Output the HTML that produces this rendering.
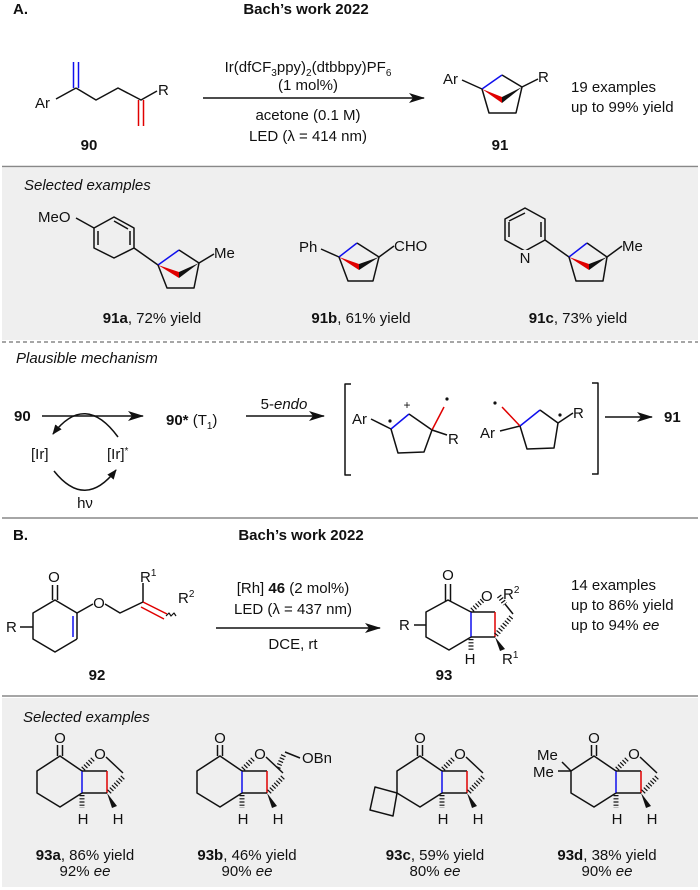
<!DOCTYPE html>
<html><head><meta charset="utf-8">
<style>
html,body{margin:0;padding:0;background:#fff;}
svg{display:block;font-family:"Liberation Sans",Arial,sans-serif;}
text{font-size:15px;fill:#111;}
.b{font-weight:bold;}
.k{stroke:#111;stroke-width:1.5;fill:none;stroke-linejoin:round;}
.bl{stroke:#1010ee;stroke-width:1.5;fill:none;}
.rd{stroke:#e00000;stroke-width:1.5;fill:none;}
.h{stroke:#111;stroke-width:5;stroke-dasharray:1.2 2;fill:none;}
</style></head><body>
<svg width="700" height="890" viewBox="0 0 700 890" xmlns="http://www.w3.org/2000/svg">
<defs>
<marker id="ah" viewBox="0 0 10 10" refX="9" refY="5" markerWidth="10" markerHeight="10" markerUnits="userSpaceOnUse" orient="auto"><path d="M0,1 L10,5 L0,9 Z" fill="#111"/></marker>
<marker id="ah2" viewBox="0 0 16 10" refX="15" refY="5" markerWidth="16" markerHeight="10" markerUnits="userSpaceOnUse" orient="auto"><path d="M0,0 L16,5 L0,10 L4,5 Z" fill="#111"/></marker>
</defs>

<rect x="2" y="168" width="696" height="172" fill="#efefef"/>
<rect x="2" y="698" width="696" height="189" fill="#efefef"/>
<line x1="2" y1="166.5" x2="698" y2="166.5" stroke="#888" stroke-width="1.5"/>
<line x1="2" y1="342" x2="698" y2="342" stroke="#888" stroke-width="1.5" stroke-dasharray="4 3"/>
<line x1="2" y1="518" x2="698" y2="518" stroke="#888" stroke-width="1.5"/>
<line x1="2" y1="696" x2="698" y2="696" stroke="#888" stroke-width="1.5"/>

<text x="13" y="14" class="b" style="font-size:15px">A.</text>
<text x="306" y="14" class="b" text-anchor="middle" style="font-size:15px">Bach’s work 2022</text>

<text x="35" y="108">Ar</text>
<line class="k" x1="56" y1="99" x2="76" y2="88"/>
<line class="bl" x1="73.5" y1="88" x2="73.5" y2="62"/><line class="bl" x1="78.5" y1="88" x2="78.5" y2="62"/>
<polyline class="k" points="76,88 96,100 118,88 141,100 157,91"/>
<text x="158" y="95">R</text>
<line class="rd" x1="138.5" y1="100" x2="138.5" y2="126"/><line class="rd" x1="143.5" y1="100" x2="143.5" y2="126"/>
<text x="89" y="150" class="b" text-anchor="middle">90</text>

<line x1="203" y1="98" x2="424" y2="98" stroke="#111" stroke-width="1.6" marker-end="url(#ah2)"/>
<text x="308" y="72" text-anchor="middle">Ir(dfCF<tspan dy="4" style="font-size:10px">3</tspan><tspan dy="-4">ppy)</tspan><tspan dy="4" style="font-size:10px">2</tspan><tspan dy="-4">(dtbbpy)PF</tspan><tspan dy="4" style="font-size:10px">6</tspan></text>
<text x="308" y="90" text-anchor="middle">(1 mol%)</text>
<text x="308" y="120" text-anchor="middle">acetone (0.1 M)</text>
<text x="308" y="141" text-anchor="middle">LED (λ = 414 nm)</text>

<text x="443" y="84">Ar</text>
<line class="k" x1="462" y1="80" x2="482" y2="89"/>
<line class="bl" x1="482" y1="89" x2="502" y2="75"/>
<polyline class="k" points="502,75 522,87 516,113 489,113 482,89"/>
<polygon points="482,89 502,97 502,103" fill="#e00000"/>
<polygon points="522,87 502,97 502,103" fill="#111"/>
<line class="k" x1="522" y1="87" x2="538" y2="79"/>
<text x="538" y="82">R</text>
<text x="500" y="150" class="b" text-anchor="middle">91</text>
<text x="571" y="92">19 examples</text>
<text x="571" y="112">up to 99% yield</text>

<text x="24" y="190" style="font-style:italic">Selected examples</text>
<text x="38" y="222">MeO</text>
<line class="k" x1="76" y1="218" x2="94" y2="228"/>
<polygon class="k" points="94,228 114,217 134,228 134,248 114,258 94,248"/>
<line class="k" x1="98" y1="231" x2="98" y2="245"/><line class="k" x1="130" y1="231" x2="130" y2="245"/><line class="k" x1="114" y1="221" x2="128" y2="229"/>
<line class="k" x1="134" y1="248" x2="158" y2="265"/>
<line class="bl" x1="158" y1="265" x2="179" y2="250"/>
<polyline class="k" points="179,250 199,263 194,288 167,288 158,265"/>
<polygon points="158,265 179,272 179,278" fill="#e00000"/>
<polygon points="199,263 179,272 179,278" fill="#111"/>
<line class="k" x1="199" y1="263" x2="214" y2="254"/>
<text x="214" y="258">Me</text>
<text x="299" y="252">Ph</text>
<line class="k" x1="321" y1="249" x2="339" y2="257"/>
<line class="bl" x1="339" y1="257" x2="357" y2="243"/>
<polyline class="k" points="357,243 379,257 373,281 348,281 339,257"/>
<polygon points="339,257 359,264 359,270" fill="#e00000"/>
<polygon points="379,257 359,264 359,270" fill="#111"/>
<line class="k" x1="379" y1="257" x2="394" y2="246"/>
<text x="394" y="251">CHO</text>
<polygon class="k" points="525,208 545,219 545,240 525,251 505,240 505,219"/>
<line class="k" x1="541" y1="222" x2="541" y2="237"/><line class="k" x1="509" y1="222" x2="509" y2="237"/><line class="k" x1="525" y1="213" x2="509" y2="221"/>
<rect x="519" y="250" width="12" height="14" fill="#efefef"/>
<text x="525" y="263" text-anchor="middle">N</text>
<line class="k" x1="545" y1="240" x2="569" y2="257"/>
<line class="bl" x1="569" y1="257" x2="587" y2="243"/>
<polyline class="k" points="587,243 607,257 603,281 576,281 569,257"/>
<polygon points="569,257 589,264 589,270" fill="#e00000"/>
<polygon points="607,257 589,264 589,270" fill="#111"/>
<line class="k" x1="607" y1="257" x2="622" y2="246"/>
<text x="622" y="251">Me</text>
<text x="152" y="323" text-anchor="middle"><tspan class="b">91a</tspan>, 72% yield</text>
<text x="361" y="323" text-anchor="middle"><tspan class="b">91b</tspan>, 61% yield</text>
<text x="578" y="323" text-anchor="middle"><tspan class="b">91c</tspan>, 73% yield</text>

<text x="16" y="363" style="font-style:italic">Plausible mechanism</text>
<text x="14" y="421" class="b">90</text>
<line x1="42" y1="416" x2="143" y2="416" stroke="#111" stroke-width="1.6" marker-end="url(#ah2)"/>
<path d="M118,437 Q85,392 53,434" class="k" marker-end="url(#ah)"/>
<path d="M54,471 Q85,510 116,470" class="k" marker-end="url(#ah)"/>
<text x="31" y="459">[Ir]</text>
<text x="107" y="459">[Ir]<tspan dy="-5" style="font-size:10px">*</tspan></text>
<text x="85" y="508" text-anchor="middle">hν</text>
<text x="166" y="425"><tspan class="b">90*</tspan> (T<tspan dy="4" style="font-size:10px">1</tspan><tspan dy="-4">)</tspan></text>
<line x1="246" y1="416" x2="324" y2="416" stroke="#111" stroke-width="1.6" marker-end="url(#ah2)"/>
<text x="284" y="409" text-anchor="middle">5-<tspan style="font-style:italic">endo</tspan></text>
<polyline class="k" points="351,384 345,384 345,475 351,475"/>
<polyline class="k" points="592,383 598,383 598,474 592,474"/>
<text x="352" y="424">Ar</text>
<line class="k" x1="371" y1="419" x2="391" y2="429"/>
<line class="bl" x1="391" y1="429" x2="409" y2="414"/>
<polyline class="k" points="409,414 432,430 424,452 398,453 391,429"/>
<line class="rd" x1="432" y1="430" x2="444" y2="407"/>
<line class="k" x1="432" y1="430" x2="447" y2="435"/>
<text x="448" y="444">R</text>
<circle cx="390" cy="421" r="1.6" fill="#111"/>
<circle cx="447" cy="399" r="1.6" fill="#111"/>
<text x="407" y="409" text-anchor="middle" style="font-size:12px">+</text>
<text x="480" y="438">Ar</text>
<line class="k" x1="500" y1="431" x2="520" y2="426"/>
<line class="rd" x1="520" y1="426" x2="502" y2="407"/>
<circle cx="495" cy="403" r="1.6" fill="#111"/>
<line class="bl" x1="520" y1="426" x2="540" y2="410"/>
<polyline class="k" points="540,410 558,423 554,448 527,449 520,426"/>
<line class="k" x1="558" y1="423" x2="573" y2="413"/>
<circle cx="560" cy="415" r="1.6" fill="#111"/>
<text x="573" y="418">R</text>
<line x1="605" y1="417" x2="652" y2="417" stroke="#111" stroke-width="1.6" marker-end="url(#ah2)"/>
<text x="664" y="422" class="b">91</text>

<text x="13" y="540" class="b" style="font-size:15px">B.</text>
<text x="301" y="540" class="b" text-anchor="middle" style="font-size:15px">Bach’s work 2022</text>
<text x="54" y="582" text-anchor="middle">O</text>
<line class="k" x1="52.5" y1="600" x2="52.5" y2="585"/><line class="k" x1="57.5" y1="600" x2="57.5" y2="585"/>
<polyline class="k" points="77,613 55,600 33,613 33,639 55,652 77,639"/>
<line class="k" x1="77" y1="613" x2="77" y2="639"/>
<line class="bl" x1="73" y1="616" x2="73" y2="637"/>
<line class="k" x1="77" y1="613" x2="93" y2="604"/>
<text x="99" y="608" text-anchor="middle">O</text>
<polyline class="k" points="105,604 120,613 143,602"/>
<line class="k" x1="143" y1="602" x2="143" y2="583"/>
<text x="140" y="582">R<tspan dy="-6" style="font-size:10px">1</tspan></text>
<line class="rd" x1="143" y1="602" x2="167" y2="614"/><line class="rd" x1="141" y1="607" x2="164" y2="619"/>
<path d="M166,616 l3,-3 l2,3 l3,-3 l2,3" class="k" style="stroke-width:1.2"/>
<text x="178" y="603">R<tspan dy="-6" style="font-size:10px">2</tspan></text>
<line class="k" x1="20" y1="627" x2="33" y2="627"/>
<text x="6" y="632">R</text>
<text x="97" y="680" class="b" text-anchor="middle">92</text>
<line x1="216" y1="628" x2="380" y2="628" stroke="#111" stroke-width="1.6" marker-end="url(#ah2)"/>
<text x="293" y="593" text-anchor="middle">[Rh] <tspan class="b">46</tspan> (2 mol%)</text>
<text x="293" y="614" text-anchor="middle">LED (λ = 437 nm)</text>
<text x="293" y="649" text-anchor="middle">DCE, rt</text>
<text x="448" y="580" text-anchor="middle">O</text>
<line class="k" x1="445.5" y1="601" x2="445.5" y2="584"/><line class="k" x1="450.5" y1="601" x2="450.5" y2="584"/>
<polyline class="k" points="471,612 448,600 426,612 426,637 449,650 471,637"/>
<line class="bl" x1="471" y1="612" x2="471" y2="637"/>
<line class="k" x1="471" y1="612" x2="495" y2="612"/>
<line class="rd" x1="495" y1="612" x2="495" y2="637"/>
<line class="k" x1="495" y1="637" x2="471" y2="637"/>
<line class="h" x1="472" y1="610" x2="483" y2="600"/>
<text x="481" y="601">O</text>
<line class="h" x1="499" y1="596" x2="505" y2="604"/>
<line class="k" x1="505" y1="604" x2="513" y2="614"/>
<line class="h" x1="496" y1="635" x2="512" y2="616"/>
<text x="503" y="599">R<tspan dy="-6" style="font-size:10px">2</tspan></text>
<line class="h" x1="471" y1="639" x2="471" y2="650"/>
<text x="470" y="664" text-anchor="middle">H</text>
<polygon points="495,637 500,651 505,649" fill="#111"/>
<text x="502" y="664">R<tspan dy="-6" style="font-size:10px">1</tspan></text>
<line class="k" x1="414" y1="625" x2="426" y2="625"/>
<text x="399" y="630">R</text>
<text x="444" y="680" class="b" text-anchor="middle">93</text>
<text x="571" y="590">14 examples</text>
<text x="571" y="610">up to 86% yield</text>
<text x="571" y="630">up to 94% <tspan style="font-style:italic">ee</tspan></text>

<text x="23" y="722" style="font-style:italic">Selected examples</text>

<g>
<text x="60" y="743" text-anchor="middle">O</text>
<line class="k" x1="57.5" y1="756" x2="57.5" y2="745"/><line class="k" x1="62.5" y1="756" x2="62.5" y2="745"/>
<polyline class="k" points="82,771 60,756 37,771 37,793 60,807 82,793"/>
<line class="bl" x1="82" y1="771" x2="82" y2="793"/>
<line class="k" x1="82" y1="771" x2="107" y2="771"/>
<line class="rd" x1="107" y1="771" x2="107" y2="793"/>
<line class="k" x1="107" y1="793" x2="82" y2="793"/>
<line class="h" x1="83" y1="769" x2="94" y2="758"/>
<text x="100" y="759" text-anchor="middle">O</text>
<line class="k" x1="106" y1="757" x2="123" y2="773"/>
<line class="h" x1="109" y1="792" x2="124" y2="776"/>
<line class="h" x1="82" y1="795" x2="82" y2="808"/>
<text x="83" y="824" text-anchor="middle">H</text>
<polygon points="107,793 112,808 117,806" fill="#111"/>
<text x="118" y="824" text-anchor="middle">H</text>
</g>
<text x="85" y="860" text-anchor="middle"><tspan class="b">93a</tspan>, 86% yield</text>
<text x="85" y="876" text-anchor="middle">92% <tspan style="font-style:italic">ee</tspan></text>

<g transform="translate(160,0)">
<text x="60" y="743" text-anchor="middle">O</text>
<line class="k" x1="57.5" y1="756" x2="57.5" y2="745"/><line class="k" x1="62.5" y1="756" x2="62.5" y2="745"/>
<polyline class="k" points="82,771 60,756 37,771 37,793 60,807 82,793"/>
<line class="bl" x1="82" y1="771" x2="82" y2="793"/>
<line class="k" x1="82" y1="771" x2="107" y2="771"/>
<line class="rd" x1="107" y1="771" x2="107" y2="793"/>
<line class="k" x1="107" y1="793" x2="82" y2="793"/>
<line class="h" x1="83" y1="769" x2="94" y2="758"/>
<text x="100" y="759" text-anchor="middle">O</text>
<line class="k" x1="106" y1="757" x2="123" y2="773"/>
<line class="h" x1="109" y1="792" x2="124" y2="776"/>
<line class="h" x1="82" y1="795" x2="82" y2="808"/>
<text x="83" y="824" text-anchor="middle">H</text>
<polygon points="107,793 112,808 117,806" fill="#111"/>
<text x="118" y="824" text-anchor="middle">H</text>
<line class="h" x1="118" y1="768" x2="124" y2="754"/>
<line class="k" x1="125" y1="752" x2="140" y2="758"/>
<text x="142" y="763">OBn</text>
</g>
<text x="247" y="860" text-anchor="middle"><tspan class="b">93b</tspan>, 46% yield</text>
<text x="247" y="876" text-anchor="middle">90% <tspan style="font-style:italic">ee</tspan></text>

<g transform="translate(360,0)">
<text x="60" y="743" text-anchor="middle">O</text>
<line class="k" x1="57.5" y1="756" x2="57.5" y2="745"/><line class="k" x1="62.5" y1="756" x2="62.5" y2="745"/>
<polyline class="k" points="82,771 60,756 37,771 37,793 60,807 82,793"/>
<line class="bl" x1="82" y1="771" x2="82" y2="793"/>
<line class="k" x1="82" y1="771" x2="107" y2="771"/>
<line class="rd" x1="107" y1="771" x2="107" y2="793"/>
<line class="k" x1="107" y1="793" x2="82" y2="793"/>
<line class="h" x1="83" y1="769" x2="94" y2="758"/>
<text x="100" y="759" text-anchor="middle">O</text>
<line class="k" x1="106" y1="757" x2="123" y2="773"/>
<line class="h" x1="109" y1="792" x2="124" y2="776"/>
<line class="h" x1="82" y1="795" x2="82" y2="808"/>
<text x="83" y="824" text-anchor="middle">H</text>
<polygon points="107,793 112,808 117,806" fill="#111"/>
<text x="118" y="824" text-anchor="middle">H</text>
<polygon class="k" points="37,793 15,787 10,810 33,816"/>
</g>
<text x="435" y="860" text-anchor="middle"><tspan class="b">93c</tspan>, 59% yield</text>
<text x="435" y="876" text-anchor="middle">80% <tspan style="font-style:italic">ee</tspan></text>

<g transform="translate(534,0)">
<text x="60" y="743" text-anchor="middle">O</text>
<line class="k" x1="57.5" y1="756" x2="57.5" y2="745"/><line class="k" x1="62.5" y1="756" x2="62.5" y2="745"/>
<polyline class="k" points="82,771 60,756 37,771 37,793 60,807 82,793"/>
<line class="bl" x1="82" y1="771" x2="82" y2="793"/>
<line class="k" x1="82" y1="771" x2="107" y2="771"/>
<line class="rd" x1="107" y1="771" x2="107" y2="793"/>
<line class="k" x1="107" y1="793" x2="82" y2="793"/>
<line class="h" x1="83" y1="769" x2="94" y2="758"/>
<text x="100" y="759" text-anchor="middle">O</text>
<line class="k" x1="106" y1="757" x2="123" y2="773"/>
<line class="h" x1="109" y1="792" x2="124" y2="776"/>
<line class="h" x1="82" y1="795" x2="82" y2="808"/>
<text x="83" y="824" text-anchor="middle">H</text>
<polygon points="107,793 112,808 117,806" fill="#111"/>
<text x="118" y="824" text-anchor="middle">H</text>
<line class="k" x1="37" y1="771" x2="28" y2="762"/>
<line class="k" x1="37" y1="771" x2="24" y2="771"/>
<text x="3" y="760">Me</text>
<text x="-1" y="777">Me</text>
</g>
<text x="607" y="860" text-anchor="middle"><tspan class="b">93d</tspan>, 38% yield</text>
<text x="607" y="876" text-anchor="middle">90% <tspan style="font-style:italic">ee</tspan></text>
</svg>
</body></html>
